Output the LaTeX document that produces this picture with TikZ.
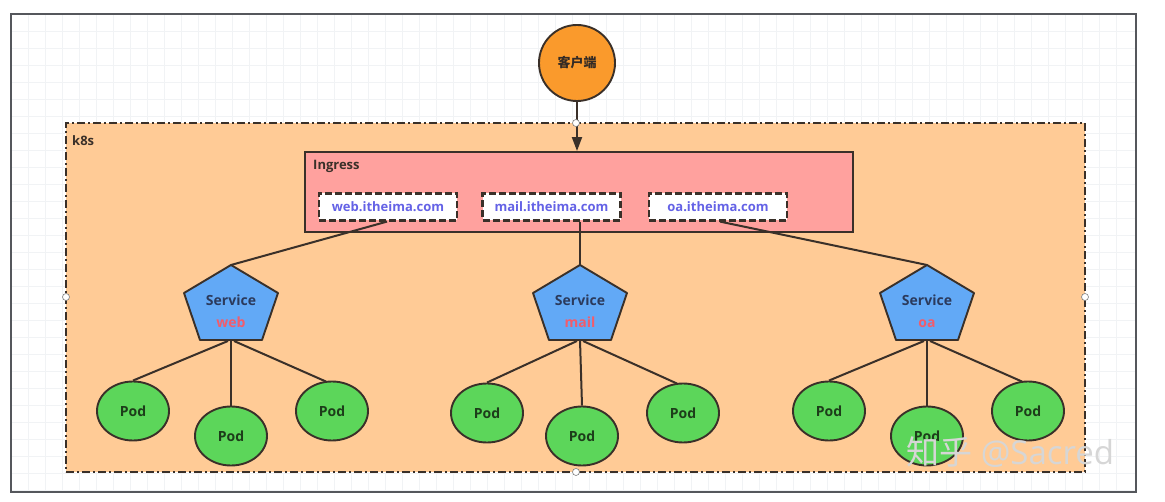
\documentclass[tikz,border=0pt]{standalone}
\usepackage{fontspec}
\setmainfont{Open Sans}
\newfontfamily\cjk{Noto Sans CJK SC}
\usetikzlibrary{shapes.geometric,arrows.meta,calc}
\definecolor{edge}{HTML}{3A3029}
\definecolor{k8sfill}{HTML}{FFCB96}
\definecolor{ingfill}{HTML}{FFA19E}
\definecolor{cltfill}{HTML}{FA9A2C}
\definecolor{svcfill}{HTML}{62A9F6}
\definecolor{podfill}{HTML}{5CD65A}
\definecolor{podtext}{HTML}{1D3D1A}
\definecolor{svctext}{HTML}{2B3A5C}
\definecolor{svcred}{HTML}{F25C6B}
\definecolor{urltext}{HTML}{6462E6}
\definecolor{gridc}{HTML}{F1F3F5}
\definecolor{framec}{HTML}{55575C}
\tikzset{
  k8sbox/.style={draw=edge, fill=k8sfill, line width=2pt, dash pattern=on 8pt off 3pt on 2pt off 3pt, minimum width=1019pt, minimum height=349pt, inner sep=0pt},
  ingbox/.style={draw=edge, fill=ingfill, line width=1.9pt, minimum width=548pt, minimum height=80pt, inner sep=0pt},
  urlbox/.style={draw=edge, fill=white, line width=2.2pt, dash pattern=on 7pt off 3pt, minimum width=138pt, minimum height=27pt, inner sep=0pt, text=urltext, font=\fontsize{13}{15}\selectfont\bfseries},
  client/.style={circle, draw=edge, fill=cltfill, line width=1.9pt, minimum size=76pt, inner sep=0pt, font=\cjk\fontsize{13}{15}\selectfont\bfseries, text=edge!90!black},
  pod/.style={ellipse, draw=edge, fill=podfill, line width=1.9pt, minimum width=72pt, minimum height=59pt, inner sep=0pt, text=podtext, font=\fontsize{14}{16}\selectfont\bfseries},
  svclabel/.style={align=center, inner sep=0pt, text=svctext, font=\fontsize{14}{22}\selectfont\bfseries},
  pentagon/.style={draw=edge, fill=svcfill, line width=1.9pt, line join=round},
  conn/.style={draw=edge, line width=2pt},
  handle/.style={circle, draw=gray, fill=white, line width=0.6pt, minimum size=7pt, inner sep=0pt},
  lbl/.style={inner sep=0pt, anchor=north west, text=edge, font=\fontsize{13}{15}\selectfont\bfseries}
}
\begin{document}
\begin{tikzpicture}[x=1pt,y=-1pt]
\useasboundingbox (0,0) rectangle (1165,502);
\fill[white] (0,0) rectangle (1165,502);
% faint grid
\foreach \gx in {28,45,...,1130} {\draw[gridc, line width=0.6pt] (\gx,15) -- (\gx,491);}
\foreach \gy in {31,48,...,490} {\draw[gridc, line width=0.6pt] (12,\gy) -- (1135,\gy);}
\draw[framec, line width=1.3pt] (11,14) rectangle (1136,492);

% k8s container
\node[k8sbox] (k8s) at (575.5,297.5) {};
\node[lbl] (k8slabel) at (72,135) {k8s};

% client
\node[client] (client) at (577,63) {客户端};

% ingress
\node[ingbox] (ingress) at (579,192) {};
\node[lbl] (inglabel) at (313,160) {Ingress};
\node[urlbox] (uweb) at (388,207) {web.itheima.com};
\node[urlbox] (umail) at (551.5,207) {mail.itheima.com};
\node[urlbox] (uoa) at (718,207) {oa.itheima.com};

% services (pentagons)
\foreach \nm/\cx in {web/231, mail/580, oa/927} {
  \draw[pentagon] (\cx,265) -- (\cx+47,293) -- (\cx+31,340) -- (\cx-31,340) -- (\cx-47,293) -- cycle;
  \coordinate (s\nm top) at (\cx,265);
  \coordinate (s\nm bot) at (\cx,340);
}
\node[svclabel] (sweb) at (231,311) {Service\\\textcolor{svcred}{web}};
\node[svclabel] (smail) at (580,311) {Service\\\textcolor{svcred}{mail}};
\node[svclabel] (soa) at (927,311) {Service\\\textcolor{svcred}{oa}};

% pods
\node[pod] (pw1) at (133,411) {Pod};
\node[pod] (pw2) at (231,436) {Pod};
\node[pod] (pw3) at (332,411) {Pod};
\node[pod] (pm1) at (487,413) {Pod};
\node[pod] (pm2) at (582,436) {Pod};
\node[pod] (pm3) at (683,413) {Pod};
\node[pod] (po1) at (829,411) {Pod};
\node[pod] (po2) at (927,436) {Pod};
\node[pod] (po3) at (1028,411) {Pod};

% connectors
\draw[conn, -{Triangle[length=14pt,width=10pt]}] (client.south) -- (client.south |- ingress.north);
\draw[conn] ($(uweb.south)+(-1,0)$) -- (swebtop);
\draw[conn] (umail.south -| smailtop) -- (smailtop);
\draw[conn] ($(uoa.south)+(2,0)$) -- (soatop);
\foreach \s/\a/\b/\c in {web/pw1/pw2/pw3, mail/pm1/pm2/pm3, oa/po1/po2/po3} {
  \draw[conn] ($(s\s bot)+(-3,1)$) -- (\a.north);
  \draw[conn] (s\s bot) -- (\b.north);
  \draw[conn] ($(s\s bot)+(3,1)$) -- ($(\c.north)+(-6,1)$);
}

% selection handles
\node[handle] (h1) at (576,123) {};
\node[handle] (h2) at (66,297) {};
\node[handle] (h3) at (1085,297) {};
\node[handle] (h4) at (576,472) {};

% watermark
\node[inner sep=0pt, anchor=west, text=white!84!black, font=\fontsize{33}{36}\selectfont] (wm) at (906,452) {{\cjk 知乎} @Sacred};
\end{tikzpicture}
\end{document}
